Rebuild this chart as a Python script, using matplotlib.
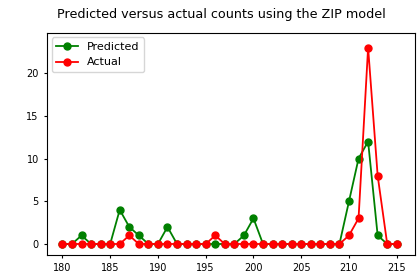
import numpy as np
import matplotlib
matplotlib.use("Agg")
import matplotlib.pyplot as plt

years = np.arange(180, 216)
predicted = [0, 0, 1, 0, 0, 0, 4, 2, 1, 0, 0, 2, 0, 0, 0, 0, 0, 0, 0, 1,
             3, 0, 0, 0, 0, 0, 0, 0, 0, 0, 5, 10, 12, 1, 0, 0]
actual = [0, 0, 0, 0, 0, 0, 0, 1, 0, 0, 0, 0, 0, 0, 0, 0, 1, 0, 0, 0,
          0, 0, 0, 0, 0, 0, 0, 0, 0, 0, 1, 3, 23, 8, 0, 0]

fig = plt.figure(figsize=(4.17, 2.72), dpi=100)
ax = fig.add_axes([0.113, 0.0625, 0.882, 0.816])
ax.plot(years, predicted, 'go-', markersize=5, linewidth=1.3, label='Predicted')
ax.plot(years, actual, 'ro-', markersize=5, linewidth=1.3, label='Actual')
ax.set_xticks(np.arange(180, 216, 5))
ax.set_yticks([0, 5, 10, 15, 20])
ax.tick_params(labelsize=7, length=2.5)
ax.set_xlim(178.4, 216.9)
ax.set_ylim(-1.29, 24.7)
ax.legend(loc='upper left', fontsize=8, borderaxespad=0.4)
fig.text(0.53, 0.948, 'Predicted versus actual counts using the ZIP model',
         fontsize=9.2, ha='center', va='center')
fig.savefig('out.png', dpi=100)
